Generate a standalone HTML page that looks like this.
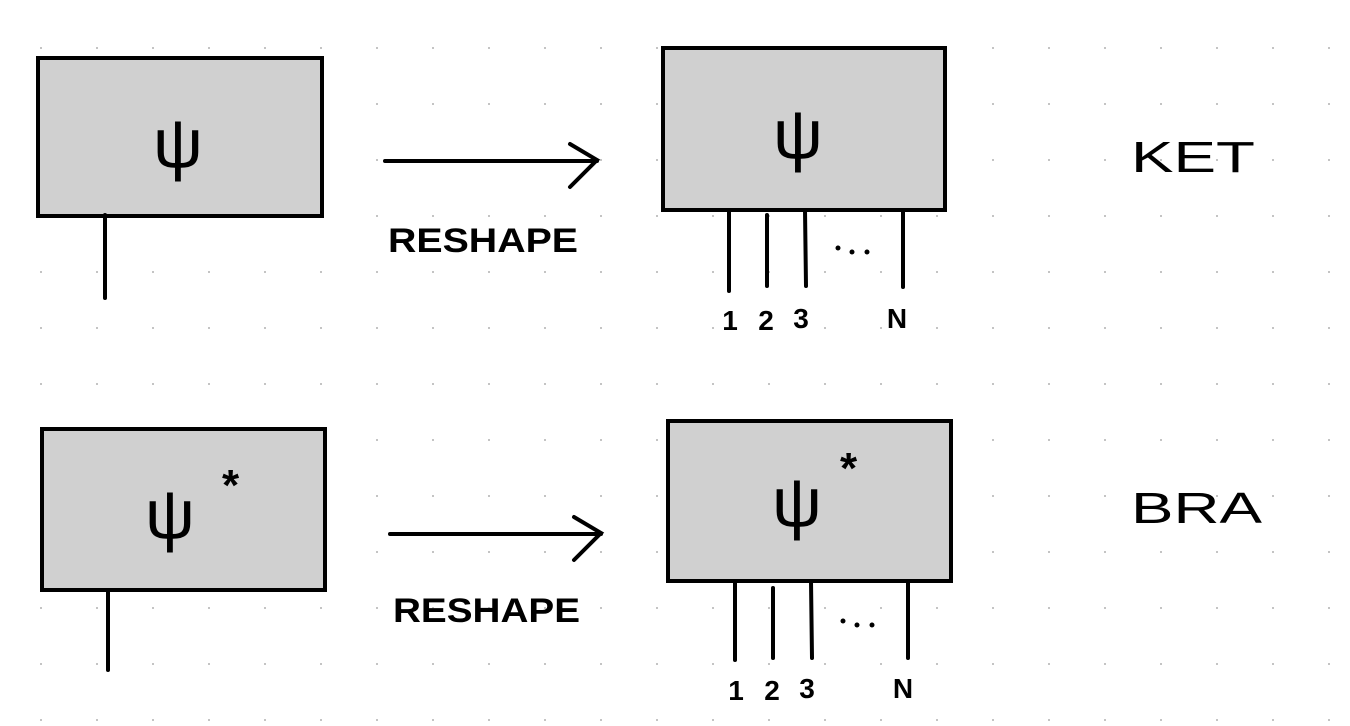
<!DOCTYPE html>
<html><head><meta charset="utf-8"><style>
html,body{margin:0;padding:0;background:#fff;}
svg{display:block}
text{font-family:"Liberation Sans",sans-serif;}
</style></head><body>
<svg width="1350" height="726" viewBox="0 0 1350 726" xmlns="http://www.w3.org/2000/svg">
<defs>
<pattern id="g" x="13" y="20" width="56" height="56" patternUnits="userSpaceOnUse">
<rect x="27" y="27" width="2" height="2" fill="#c4c4c4"/>
</pattern>
</defs>
<rect width="1350" height="726" fill="url(#g)"/>
<g stroke="#000" stroke-width="4" stroke-linecap="round" fill="none">
<rect x="38" y="58" width="284" height="158" fill="#d0d0d0"/>
<line x1="105" y1="215" x2="105" y2="298"/>
<line x1="385" y1="161" x2="597" y2="161"/>
<polyline points="570,144 597,160 570,187"/>
<rect x="663" y="48" width="282" height="162" fill="#d0d0d0"/>
<line x1="729" y1="210" x2="729" y2="291"/>
<line x1="767" y1="215" x2="767" y2="286"/>
<line x1="805" y1="210" x2="806" y2="286"/>
<line x1="903" y1="212" x2="903" y2="287"/>
<rect x="42" y="429" width="283" height="161" fill="#d0d0d0"/>
<line x1="108" y1="590" x2="108" y2="670"/>
<line x1="390" y1="534" x2="601" y2="534"/>
<polyline points="574,517 601,533 574,560"/>
<rect x="668" y="421" width="283" height="160" fill="#d0d0d0"/>
<line x1="735" y1="581" x2="735" y2="660"/>
<line x1="773" y1="588" x2="773" y2="658"/>
<line x1="811" y1="581" x2="812" y2="658"/>
<line x1="908" y1="583" x2="908" y2="658"/>
</g>
<g fill="#000">
<circle cx="838" cy="248" r="2.5"/><circle cx="852" cy="252" r="2.5"/><circle cx="867" cy="252" r="2.5"/>
<circle cx="843" cy="621" r="2.5"/><circle cx="857" cy="625" r="2.5"/><circle cx="872" cy="625" r="2.5"/>
</g>
<g font-size="70" text-anchor="middle" fill="#000">
<text x="178" y="167">ψ</text>
<text x="798" y="158">ψ</text>
<text x="170" y="538">ψ</text>
<text x="797" y="526">ψ</text>
</g>
<g font-size="44" font-weight="bold" fill="#000">
<text x="222" y="500">*</text>
<text x="840" y="483">*</text>
</g>
<g font-size="34" font-weight="bold" fill="#000">
<text x="388" y="252" textLength="190" lengthAdjust="spacingAndGlyphs">RESHAPE</text>
<text x="393" y="622" textLength="187" lengthAdjust="spacingAndGlyphs">RESHAPE</text>
</g>
<g font-size="28" font-weight="bold" fill="#000" text-anchor="middle">
<text x="730" y="330">1</text><text x="766" y="330">2</text><text x="801" y="328">3</text><text x="897" y="328">N</text>
<text x="736" y="700">1</text><text x="772" y="700">2</text><text x="807" y="698">3</text><text x="903" y="698">N</text>
</g>
<g font-size="44" fill="#000">
<text x="1131" y="172" textLength="124" lengthAdjust="spacingAndGlyphs">KET</text>
<text x="1131" y="523" textLength="131" lengthAdjust="spacingAndGlyphs">BRA</text>
</g>
</svg>
</body></html>
